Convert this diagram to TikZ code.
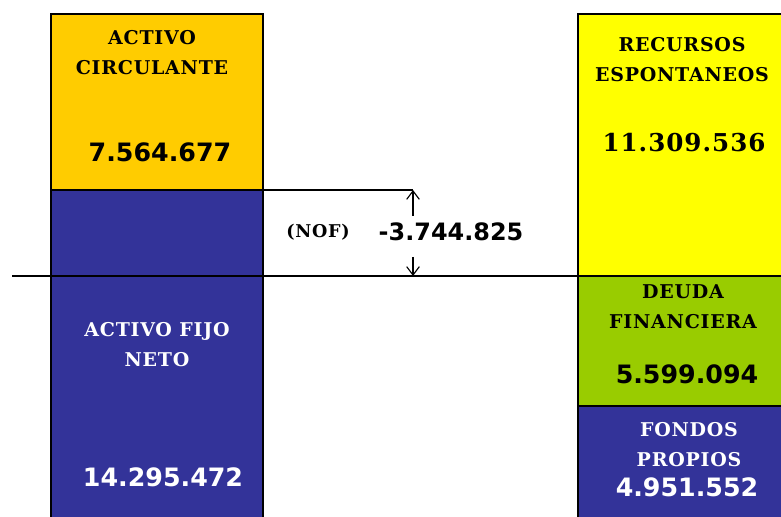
\documentclass[tikz,border=0pt]{standalone}
\usepackage{fontspec}
\newfontfamily\rubrofont{DejaVu Serif}[LetterSpace=4]
\newfontfamily\montofont{DejaVu Sans}
\usetikzlibrary{arrows.meta,positioning}
\definecolor{circulante}{HTML}{FFCC00}
\definecolor{azul}{HTML}{333399}
\definecolor{espontaneo}{HTML}{FFFF00}
\definecolor{deuda}{HTML}{99CC00}

\begin{document}
\begin{tikzpicture}[x=0.025cm,y=-0.025cm,
    caja/.style={draw=black, line width=1pt},
    rubro/.style={font=\rubrofont\bfseries\fontsize{13.5}{21.3}\selectfont, align=center},
    monto/.style={font=\montofont\bfseries\fontsize{18}{20}\selectfont},
    flecha/.style={line width=0.8pt, -{Straight Barb[length=6pt,width=9pt]}}]
    \useasboundingbox (0,0) rectangle (781,517);
    \clip (0,0) rectangle (781,517);

    % activo
    \draw [caja, fill=circulante] (51,14) rectangle (263,190);
    \draw [caja, fill=azul] (51,190) rectangle (263,530);
    % pasivo
    \draw [caja, fill=espontaneo] (578,14) rectangle (800,276);
    \draw [caja, fill=deuda] (578,276) rectangle (800,406);
    \draw [caja, fill=azul] (578,406) rectangle (800,530);

    \coordinate (ejeIzq) at (12,276);
    \coordinate (ejeDer) at (578,276);
    \coordinate (nofIni) at (263,190);
    \coordinate (nofSup) at (413,190);
    \coordinate (nofA) at (413,216);
    \coordinate (nofB) at (413,257);
    \coordinate (nofInf) at (413,276);

\draw [line width=0.9pt] (ejeIzq) -- (ejeDer);
\draw [line width=0.9pt] (nofIni) -- (nofSup);
\draw [flecha] (nofA) -- (nofSup);
\draw [flecha] (nofB) -- (nofInf);

\node [rubro] (ac) at (152,52.5) {ACTIVO\\CIRCULANTE};
\node [monto] (acMonto) at (160,152) {7.564.677};
\node [rubro, text=white] (af) at (157,345) {ACTIVO FIJO\\NETO};
\node [monto, text=white] (afMonto) at (163,477) {14.295.472};

\node [rubro, font=\rubrofont\bfseries\fontsize{12.5}{14}\selectfont] (nof) at (318,232) {(NOF)};
\node [monto, font=\montofont\bfseries\fontsize{17}{20}\selectfont] (nofMonto) at (451,232) {-3.744.825};

\node [rubro] (re) at (682,59.5) {RECURSOS\\ESPONTANEOS};
\node [monto, font=\rubrofont\bfseries\fontsize{17.5}{20}\selectfont] (reMonto) at (684,143) {11.309.536};
\node [rubro] (df) at (683,307) {DEUDA\\FINANCIERA};
\node [monto] (dfMonto) at (687,374) {5.599.094};
\node [rubro, text=white] (fp) at (689,445) {FONDOS\\PROPIOS};
\node [monto, text=white] (fpMonto) at (687,487) {4.951.552};
\end{tikzpicture}
\end{document}
